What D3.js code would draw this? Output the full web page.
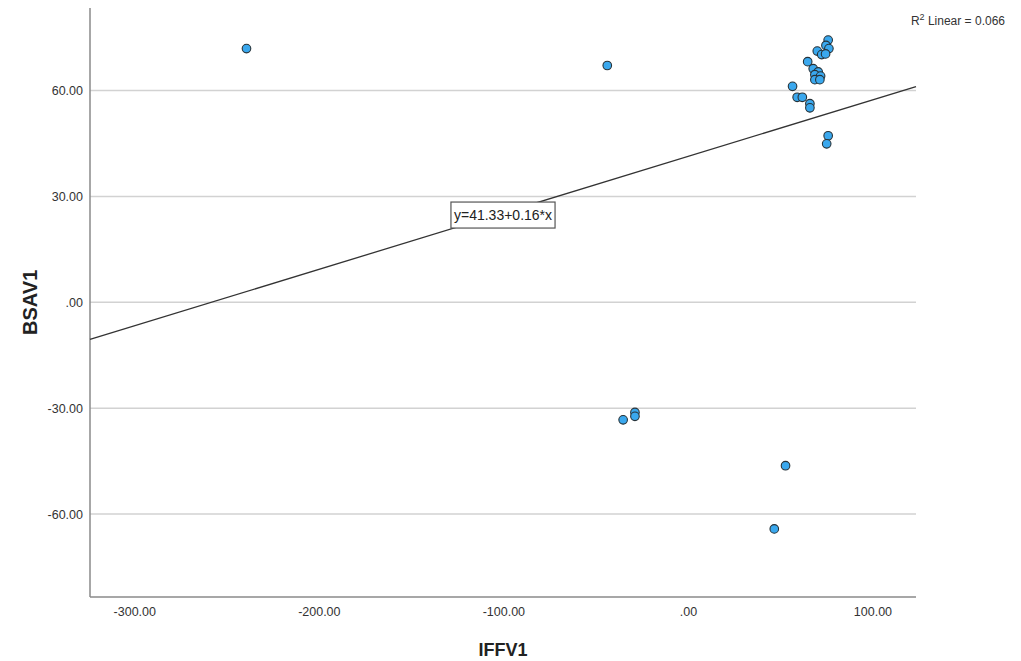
<!DOCTYPE html>
<html>
<head>
<meta charset="utf-8">
<script src="https://cdn.jsdelivr.net/npm/d3@7"></script>
<style>
  html, body { margin: 0; padding: 0; background: #fff; }
  svg { display: block; font-family: "Liberation Sans", Arial, sans-serif; }
</style>
</head>
<body>
<svg id="chart" width="1021" height="661"></svg>
<script>
// IFFV1 (x) and BSAV1 (y) observations
const iffv1 = [-239.2, -43.7, -35.1, -28.7, -28.7, 52.9, 46.8,
  76.0, 74.8, 76.4, 70.1, 72.5, 74.6, 64.9, 67.9, 70.6, 68.8, 71.9, 68.8, 71.5,
  56.7, 59.2, 62.0, 66.1, 66.1, 76.0, 75.2];
const bsav1 = [71.9, 67.1, -33.3, -31.2, -32.3, -46.3, -64.2,
  74.3, 72.8, 71.9, 71.2, 70.2, 70.4, 68.2, 66.2, 65.3, 64.5, 64.1, 63.1, 63.1,
  61.2, 58.1, 58.1, 56.3, 55.1, 47.2, 44.9];

const xTicks = [-300, -200, -100, 0, 100];
const yTicks = [-60, -30, 0, 30, 60];

// Linear fit reported on the chart
const intercept = 41.33;
const slope = 0.16;
const rSquared = 0.066;

// SPSS-style labels: two decimals, no leading zero, ASCII hyphen
const fmt = v => v === 0 ? ".00" : v.toFixed(2);

const svg = d3.select("#chart");
const plotL = 90, plotR = 916, plotT = 8, plotB = 597;

const x = d3.scaleLinear().domain([-324, 123.6]).range([plotL, plotR]);
const y = d3.scaleLinear().domain([-83.5, 83.4]).range([plotB, plotT]);

// horizontal gridlines
svg.append("g").selectAll("line").data(yTicks).join("line")
  .attr("x1", plotL).attr("x2", plotR)
  .attr("y1", d => y(d)).attr("y2", d => y(d))
  .attr("stroke", "#d2d2d2").attr("stroke-width", 1.5);

// axes
const yAxis = d3.axisLeft(y).tickValues(yTicks).tickFormat(fmt).tickSize(0).tickPadding(7);
const gy = svg.append("g").attr("transform", `translate(${plotL},0)`).call(yAxis);
gy.select(".domain").attr("stroke", "#8a8a8a").attr("stroke-width", 1.5)
  .attr("d", `M0,${plotT}V${plotB}`);
gy.selectAll("text").attr("font-size", 12.5).attr("fill", "#333");

const xAxis = d3.axisBottom(x).tickValues(xTicks).tickFormat(fmt).tickSize(0).tickPadding(10);
const gx = svg.append("g").attr("transform", `translate(0,${plotB})`).call(xAxis);
gx.select(".domain").attr("stroke", "#8a8a8a").attr("stroke-width", 1.5)
  .attr("d", `M${plotL},0H${plotR}`);
gx.selectAll("text").attr("font-size", 12.5).attr("fill", "#333");

// axis titles
svg.append("text").attr("x", (plotL + plotR) / 2).attr("y", 656)
  .attr("text-anchor", "middle").attr("font-size", 18).attr("font-weight", "bold")
  .attr("fill", "#222").text("IFFV1");
svg.append("text").attr("transform", `translate(37,${y(0)}) rotate(-90)`)
  .attr("text-anchor", "middle").attr("font-size", 20).attr("font-weight", "bold")
  .attr("fill", "#222").text("BSAV1");

// regression line
const [x0, x1] = x.domain();
svg.append("line")
  .attr("x1", x(x0)).attr("y1", y(intercept + slope * x0))
  .attr("x2", x(x1)).attr("y2", y(intercept + slope * x1))
  .attr("stroke", "#333").attr("stroke-width", 1.3);

// equation label on the fit line
const midX = x.invert((plotL + plotR) / 2);
const lbl = svg.append("g")
  .attr("transform", `translate(${x(midX)},${y(intercept + slope * midX) + 2})`);
const eqText = lbl.append("text").attr("text-anchor", "middle").attr("dy", "0.35em")
  .attr("font-size", 14).attr("fill", "#222")
  .text(`y=${intercept.toFixed(2)}+${slope.toFixed(2)}*x`);
const bb = eqText.node().getBBox();
lbl.insert("rect", "text")
  .attr("x", bb.x - 3).attr("y", -13).attr("width", bb.width + 6).attr("height", 26)
  .attr("fill", "#fff").attr("stroke", "#555").attr("stroke-width", 1.2);

// R² annotation
const r2 = svg.append("text").attr("x", 1005).attr("y", 25)
  .attr("text-anchor", "end").attr("font-size", 12).attr("fill", "#333");
r2.append("tspan").text("R");
r2.append("tspan").attr("dy", -5).attr("font-size", 9).text("2");
r2.append("tspan").attr("dy", 5).text(` Linear = ${rSquared.toFixed(3)}`);

// points
svg.append("g").selectAll("circle").data(iffv1.map((v, i) => [v, bsav1[i]])).join("circle")
  .attr("cx", d => x(d[0])).attr("cy", d => y(d[1])).attr("r", 4.3)
  .attr("fill", "#3aa8ee").attr("stroke", "#263238").attr("stroke-width", 1.1);
</script>
</body>
</html>
